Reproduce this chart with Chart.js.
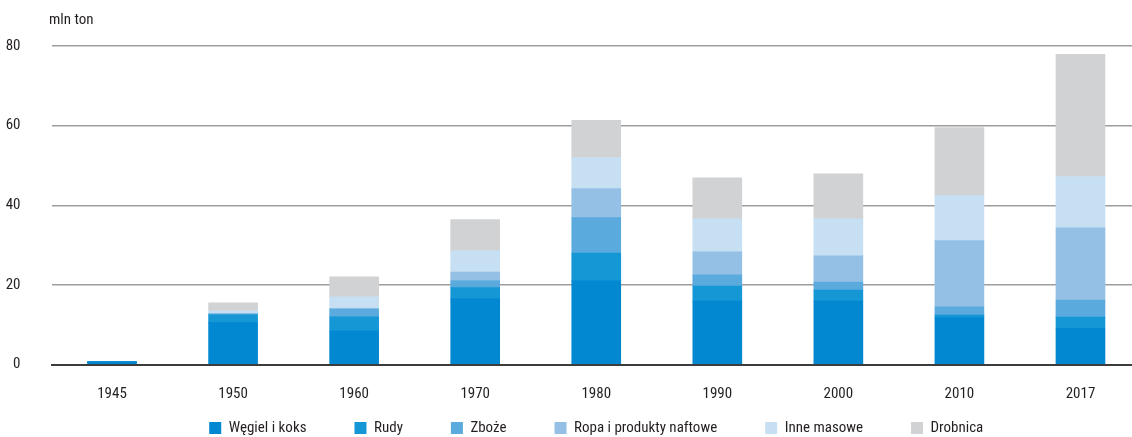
<!DOCTYPE html>
<html lang="pl">
<head>
<meta charset="utf-8">
<script src="https://cdn.jsdelivr.net/npm/chart.js@4.4.1/dist/chart.umd.min.js"></script>
<style>
    html, body { margin: 0; padding: 0; background: #fff; overflow: hidden; }
    #wrap { position: relative; width: 1141px; height: 437px; }
</style>
</head>
<body>
<div id="wrap"><canvas id="wykres"></canvas></div>
<script>
// dane (mln ton)
const lata = ["1945", "1950", "1960", "1970", "1980", "1990", "2000", "2010", "2017"];
const wegiel = [0.6, 10.5, 8.4, 16.5, 21.0, 15.9, 15.9, 11.7, 9.1];
const rudy = [0.2, 2.0, 3.6, 2.8, 7.0, 3.8, 2.8, 0.7, 2.8];
const zboze = [0, 0.2, 2.0, 1.8, 8.9, 2.8, 2.0, 2.1, 4.3];
const ropa = [0, 0, 0, 2.1, 7.3, 5.8, 6.6, 16.6, 18.1];
const inne = [0, 0.8, 3.0, 5.4, 7.8, 8.3, 9.3, 11.3, 12.9];
const drobnica = [0, 2.0, 5.0, 7.8, 9.3, 10.3, 11.3, 17.1, 30.7];
const osY = [0, 20, 40, 60, 80];

const czcionka = "'Roboto Condensed', 'DejaVu Sans Condensed', sans-serif";
Chart.defaults.font.family = czcionka;
Chart.defaults.font.size = 15;
Chart.defaults.color = "#231f20";

const seria = (label, data, color) => ({
    label: label,
    data: data,
    backgroundColor: color,
    borderWidth: 0,
    barThickness: 49
});

// podpis jednostki
const jednostka = {
    id: "jednostka",
    afterDraw(chart) {
        const ctx = chart.ctx;
        ctx.save();
        ctx.font = "15px " + czcionka;
        ctx.fillStyle = "#231f20";
        ctx.textBaseline = "alphabetic";
        ctx.fillText("mln ton", 49, 24);
        ctx.restore();
    }
};

// legenda: mala wysokosc w ukladzie, potem przesunieta na dol i na srodek obszaru wykresu
const legenda = {
    id: "legenda",
    beforeLayout(chart) {
        const lg = chart.legend;
        if (lg && !lg._fitPatched) {
            const fit = lg.fit.bind(lg);
            lg.fit = function () { fit(); this.height = 20; };
            lg._fitPatched = true;
        }
    },
    afterLayout(chart) {
        const lg = chart.legend;
        const shift = (chart.chartArea.left + chart.chartArea.right) / 2 - (lg.left + lg.right) / 2;
        lg.left += shift;
        lg.right += shift;
        lg.top = 420.5 - lg.options.labels.padding;
        lg.bottom = chart.height;
    }
};

new Chart(document.getElementById("wykres"), {
    type: "bar",
    data: {
        labels: lata,
        datasets: [
            seria("Węgiel i koks", wegiel, "#0288d1"),
            seria("Rudy", rudy, "#1597d6"),
            seria("Zboże", zboze, "#5aaadd"),
            seria("Ropa i produkty naftowe", ropa, "#94c0e6"),
            seria("Inne masowe", inne, "#c7dff2"),
            seria("Drobnica", drobnica, "#d1d2d4")
        ]
    },
    options: {
        responsive: true,
        maintainAspectRatio: false,
        animation: false,
        layout: { padding: { top: 46, right: 0, bottom: 0 } },
        plugins: {
            tooltip: { enabled: false },
            legend: {
                position: "bottom",
                labels: {
                    boxWidth: 12,
                    boxHeight: 12,
                    padding: 48,
                    font: { size: 15 }
                }
            }
        },
        scales: {
            x: {
                stacked: true,
                afterFit(scale) { scale.height = 52.5; },
                grid: { display: false },
                border: { color: "#3c3c3c", width: 2 },
                ticks: { padding: 13 }
            },
            y: {
                stacked: true,
                min: 0,
                max: 80,
                afterFit(scale) { scale.width = 51.5; },
                afterBuildTicks(scale) { scale.ticks = osY.map(v => ({ value: v })); },
                grid: {
                    color: "#9d9d9d",
                    lineWidth: 1.5,
                    drawTicks: false
                },
                border: { display: false },
                ticks: { padding: 31 }
            }
        }
    },
    plugins: [jednostka, legenda]
});
</script>
</body>
</html>
